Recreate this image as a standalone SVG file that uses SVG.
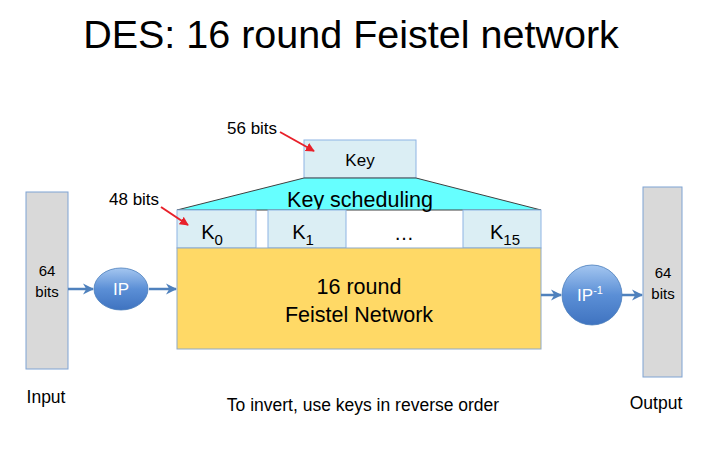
<svg xmlns="http://www.w3.org/2000/svg" width="703" height="450" viewBox="0 0 703 450">
<defs>
<linearGradient id="ball" x1="0" y1="0" x2="0" y2="1">
<stop offset="0" stop-color="#A4C6F0"/>
<stop offset="0.5" stop-color="#5B8FD6"/>
<stop offset="1" stop-color="#3F73C0"/>
</linearGradient>
<marker id="bl" viewBox="0 0 10 10" refX="9" refY="5" markerWidth="4.5" markerHeight="4.5" orient="auto" markerUnits="strokeWidth">
<path d="M0,0 L10,5 L0,10 L3,5 Z" fill="#4F81BD"/>
</marker>
<marker id="rd" viewBox="0 0 10 10" refX="9" refY="5" markerWidth="4.5" markerHeight="4.5" orient="auto" markerUnits="strokeWidth">
<path d="M0,0 L10,5 L0,10 Z" fill="#E8202A"/>
</marker>
</defs>
<style>
text{font-family:"Liberation Sans","Open Sans",sans-serif;fill:#000}
.kbox{fill:#DBEEF4;stroke:#8EB4E3;stroke-width:1}
.gray{fill:#D9D9D9;stroke:#7FA3D3;stroke-width:1}
.small{font-size:15px}
.conn{stroke:#4F81BD;stroke-width:2.5;fill:none;marker-end:url(#bl)}
.red{stroke:#E8202A;stroke-width:2;fill:none;marker-end:url(#rd)}
</style>
<rect width="703" height="450" fill="#fff"/>
<text x="351" y="48" font-size="39.5" text-anchor="middle">DES: 16 round Feistel network</text>

<g id="input">
<rect class="gray" x="26" y="192" width="42" height="177"/>
<text class="small" x="47" y="276" text-anchor="middle">64</text>
<text class="small" x="47" y="297" text-anchor="middle">bits</text>
<text x="46" y="403" font-size="17.5" text-anchor="middle">Input</text>
</g>
<g id="ip">
<ellipse cx="121" cy="289" rx="27" ry="21" fill="url(#ball)" stroke="#4A7EBB" stroke-width="0.8"/>
<text x="121" y="295" font-size="17" text-anchor="middle" style="fill:#fff">IP</text>
</g>
<g id="key">
<rect class="kbox" x="304" y="140" width="112" height="38"/>
<text x="360" y="166" font-size="17" text-anchor="middle">Key</text>
</g>
<g id="keysched">
<polygon points="304,178 416,178 541,210 177,210" fill="#66FFFF" stroke="#404040" stroke-width="1"/>
<text x="360" y="207" font-size="21.5" text-anchor="middle">Key scheduling</text>
</g>
<g id="k0">
<rect class="kbox" x="177" y="210" width="79" height="38"/>
<text x="212" y="239" font-size="20" text-anchor="middle">K<tspan font-size="15" dy="6">0</tspan></text>
</g>
<g id="k1">
<rect class="kbox" x="268" y="210" width="78" height="38"/>
<text x="303" y="239" font-size="20" text-anchor="middle">K<tspan font-size="15" dy="6">1</tspan></text>
</g>
<g id="dots">
<text x="404" y="240" font-size="20" text-anchor="middle">…</text>
</g>
<g id="k15">
<rect class="kbox" x="463" y="210" width="78" height="38"/>
<text x="505" y="239" font-size="20" text-anchor="middle">K<tspan font-size="15" dy="6">15</tspan></text>
</g>
<g id="feistel">
<rect x="177" y="248" width="364" height="101" fill="#FFD966" stroke="#8EA9C8" stroke-width="1"/>
<text x="359" y="294" font-size="21.5" text-anchor="middle">16 round</text>
<text x="359" y="322" font-size="21.5" text-anchor="middle">Feistel Network</text>
</g>
<g id="ipinv">
<circle cx="592" cy="295" r="30" fill="url(#ball)" stroke="#4A7EBB" stroke-width="0.8"/>
<text x="590" y="301" font-size="17" text-anchor="middle" style="fill:#fff">IP<tspan font-size="11" dy="-7" style="fill:#fff">-1</tspan></text>
</g>
<g id="output">
<rect class="gray" x="643" y="187" width="39" height="190"/>
<text class="small" x="663" y="278" text-anchor="middle">64</text>
<text class="small" x="663" y="299" text-anchor="middle">bits</text>
<text x="656" y="409" font-size="17.5" text-anchor="middle">Output</text>
</g>
<g id="notes">
<text x="227" y="134" font-size="17">56 bits</text>
<text x="109" y="205" font-size="17">48 bits</text>
<text x="363" y="411" font-size="17.5" text-anchor="middle">To invert, use keys in reverse order</text>
</g>
<g id="connectors">
<line class="conn" x1="68" y1="289" x2="93" y2="289"/>
<line class="conn" x1="149" y1="289" x2="176" y2="289"/>
<line class="conn" x1="541" y1="295" x2="561" y2="295"/>
<line class="conn" x1="622" y1="295" x2="642" y2="295"/>
<line class="red" x1="280" y1="132" x2="314" y2="151"/>
<line class="red" x1="161" y1="207" x2="188" y2="225"/>
</g>
</svg>
